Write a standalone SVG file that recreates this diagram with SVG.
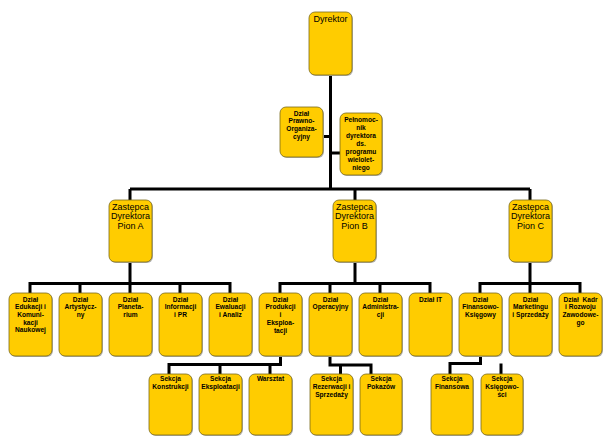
<svg xmlns="http://www.w3.org/2000/svg" width="612" height="445" viewBox="0 0 612 445">
<style>
.b{fill:#FFCC00;stroke:#7a6a1a;stroke-width:0.8}
.sh{fill:#b5b5b5}
.s{font-family:"Liberation Sans",Arial,sans-serif;font-size:6.6px;font-weight:bold;fill:#000;text-anchor:middle}
.l{font-family:"Liberation Sans",Arial,sans-serif;font-size:9px;fill:#000;text-anchor:middle}
.c{fill:none;stroke:#000;stroke-width:3}
</style>
<rect width="612" height="445" fill="#fff"/>
<g id="connectors">
<path class="c" d="M330.5 75V189M130 189H530M130 189V200M355 189V200M530 189V200"/>
<path class="c" d="M323 136.5H330.5M330.5 153H340"/>
<path class="c" d="M130 262V283.5M30 293V283.5H230V293M80 283.5V293M130 283.5V293M180 283.5V293"/>
<path class="c" d="M355 262V283.5M280 293V283.5H430V293M330 283.5V293M380 283.5V293"/>
<path class="c" d="M530 262V283.5M480 293V283.5H580V293M530 283.5V293"/>
<path class="c" d="M280.5 356V364.5H169V374M220 364.5V374M270 364.5V374"/>
<path class="c" d="M330 356V365H371V374M340.5 365V374"/>
<path class="c" d="M480.5 356V363.5H450V374M501 363.5V374"/>
</g>
<g id="dyrektor"><rect class="sh" x="310" y="13" width="43" height="63" rx="6"/><rect class="b" x="309" y="12" width="43" height="63" rx="6"/><text class="l" x="330.5" y="22">Dyrektor</text></g>
<g id="prawno"><rect class="sh" x="281" y="108" width="43" height="50" rx="6"/><rect class="b" x="280" y="107" width="43" height="50" rx="6"/><text class="s" x="301.5" y="115.5"><tspan x="301.5">Dział</tspan><tspan x="301.5" dy="7.8">Prawno-</tspan><tspan x="301.5" dy="7.8">Organiza-</tspan><tspan x="301.5" dy="7.8">cyjny</tspan></text></g>
<g id="pelnomocnik"><rect class="sh" x="341" y="114" width="42" height="62" rx="6"/><rect class="b" x="340" y="113" width="42" height="62" rx="6"/><text class="s" x="361" y="122.3"><tspan x="361">Pełnomoc-</tspan><tspan x="361" dy="8">nik</tspan><tspan x="361" dy="8">dyrektora</tspan><tspan x="361" dy="8">ds.</tspan><tspan x="361" dy="8">programu</tspan><tspan x="361" dy="8">wielolet-</tspan><tspan x="361" dy="8">niego</tspan></text></g>
<g id="pionA"><rect class="sh" x="110" y="201" width="43" height="62" rx="6"/><rect class="b" x="109" y="200" width="43" height="62" rx="6"/><text class="l" x="130.5" y="210"><tspan x="130.5">Zastępca</tspan><tspan x="130.5" dy="9.3">Dyrektora</tspan><tspan x="130.5" dy="9.3">Pion A</tspan></text></g>
<g id="pionB"><rect class="sh" x="334" y="201" width="43" height="62" rx="6"/><rect class="b" x="333" y="200" width="43" height="62" rx="6"/><text class="l" x="354.5" y="210"><tspan x="354.5">Zastępca</tspan><tspan x="354.5" dy="9.3">Dyrektora</tspan><tspan x="354.5" dy="9.3">Pion B</tspan></text></g>
<g id="pionC"><rect class="sh" x="510" y="201" width="43" height="62" rx="6"/><rect class="b" x="509" y="200" width="43" height="62" rx="6"/><text class="l" x="530.5" y="210"><tspan x="530.5">Zastępca</tspan><tspan x="530.5" dy="9.3">Dyrektora</tspan><tspan x="530.5" dy="9.3">Pion C</tspan></text></g>
<g id="edukacji"><rect class="sh" x="10" y="294" width="43" height="63" rx="6"/><rect class="b" x="9" y="293" width="43" height="63" rx="6"/><text class="s" x="30.5" y="301.5"><tspan x="30.5">Dział</tspan><tspan x="30.5" dy="7.7">Edukacji i</tspan><tspan x="30.5" dy="7.7">Komuni-</tspan><tspan x="30.5" dy="7.7">kacji</tspan><tspan x="30.5" dy="7.7">Naukowej</tspan></text></g>
<g id="artystyczny"><rect class="sh" x="60" y="294" width="43" height="63" rx="6"/><rect class="b" x="59" y="293" width="43" height="63" rx="6"/><text class="s" x="80.5" y="301.5"><tspan x="80.5">Dział</tspan><tspan x="80.5" dy="7.7">Artystycz-</tspan><tspan x="80.5" dy="7.7">ny</tspan></text></g>
<g id="planetarium"><rect class="sh" x="110" y="294" width="43" height="63" rx="6"/><rect class="b" x="109" y="293" width="43" height="63" rx="6"/><text class="s" x="130.5" y="301.5"><tspan x="130.5">Dział</tspan><tspan x="130.5" dy="7.7">Planeta-</tspan><tspan x="130.5" dy="7.7">rium</tspan></text></g>
<g id="informacji"><rect class="sh" x="160" y="294" width="43" height="63" rx="6"/><rect class="b" x="159" y="293" width="43" height="63" rx="6"/><text class="s" x="180.5" y="301.5"><tspan x="180.5">Dział</tspan><tspan x="180.5" dy="7.7">Informacji</tspan><tspan x="180.5" dy="7.7">i PR</tspan></text></g>
<g id="ewaluacji"><rect class="sh" x="210" y="294" width="43" height="63" rx="6"/><rect class="b" x="209" y="293" width="43" height="63" rx="6"/><text class="s" x="230.5" y="301.5"><tspan x="230.5">Dział</tspan><tspan x="230.5" dy="7.7">Ewaluacji</tspan><tspan x="230.5" dy="7.7">i Analiz</tspan></text></g>
<g id="produkcji"><rect class="sh" x="260" y="294" width="43" height="63" rx="6"/><rect class="b" x="259" y="293" width="43" height="63" rx="6"/><text class="s" x="280.5" y="301.5"><tspan x="280.5">Dział</tspan><tspan x="280.5" dy="7.8">Produkcji</tspan><tspan x="280.5" dy="7.8">i</tspan><tspan x="280.5" dy="7.8">Eksploa-</tspan><tspan x="280.5" dy="7.8">tacji</tspan></text></g>
<g id="operacyjny"><rect class="sh" x="310" y="294" width="43" height="63" rx="6"/><rect class="b" x="309" y="293" width="43" height="63" rx="6"/><text class="s" x="330.5" y="301.5"><tspan x="330.5">Dział</tspan><tspan x="330.5" dy="7.7">Operacyjny</tspan></text></g>
<g id="administracji"><rect class="sh" x="360" y="294" width="43" height="63" rx="6"/><rect class="b" x="359" y="293" width="43" height="63" rx="6"/><text class="s" x="380.5" y="301.5"><tspan x="380.5">Dział</tspan><tspan x="380.5" dy="7.7">Administra-</tspan><tspan x="380.5" dy="7.7">cji</tspan></text></g>
<g id="it"><rect class="sh" x="410" y="294" width="43" height="63" rx="6"/><rect class="b" x="409" y="293" width="43" height="63" rx="6"/><text class="s" x="430.5" y="301.5">Dział IT</text></g>
<g id="finansowo"><rect class="sh" x="460" y="294" width="43" height="63" rx="6"/><rect class="b" x="459" y="293" width="43" height="63" rx="6"/><text class="s" x="480.5" y="301.5"><tspan x="480.5">Dział</tspan><tspan x="480.5" dy="7.7">Finansowo-</tspan><tspan x="480.5" dy="7.7">Księgowy</tspan></text></g>
<g id="marketingu"><rect class="sh" x="510" y="294" width="43" height="63" rx="6"/><rect class="b" x="509" y="293" width="43" height="63" rx="6"/><text class="s" x="530.5" y="301.5"><tspan x="530.5">Dział</tspan><tspan x="530.5" dy="7.7">Marketingu</tspan><tspan x="530.5" dy="7.7">i Sprzedaży</tspan></text></g>
<g id="kadr"><rect class="sh" x="560" y="294" width="43" height="63" rx="6"/><rect class="b" x="559" y="293" width="43" height="63" rx="6"/><text class="s" x="580.5" y="301.5"><tspan x="580.5" xml:space="preserve">Dział  Kadr</tspan><tspan x="580.5" dy="7.7">i Rozwoju</tspan><tspan x="580.5" dy="7.7">Zawodowe-</tspan><tspan x="580.5" dy="7.7">go</tspan></text></g>
<g id="konstrukcji"><rect class="sh" x="150" y="375" width="43" height="61" rx="6"/><rect class="b" x="149" y="374" width="43" height="61" rx="6"/><text class="s" x="170.5" y="381.3"><tspan x="170.5">Sekcja</tspan><tspan x="170.5" dy="8">Konstrukcji</tspan></text></g>
<g id="eksploatacji"><rect class="sh" x="200" y="375" width="43" height="61" rx="6"/><rect class="b" x="199" y="374" width="43" height="61" rx="6"/><text class="s" x="220.5" y="381.3"><tspan x="220.5">Sekcja</tspan><tspan x="220.5" dy="8">Eksploatacji</tspan></text></g>
<g id="warsztat"><rect class="sh" x="250" y="375" width="43" height="61" rx="6"/><rect class="b" x="249" y="374" width="43" height="61" rx="6"/><text class="s" x="270.5" y="381.3">Warsztat</text></g>
<g id="rezerwacji"><rect class="sh" x="311" y="375" width="43" height="61" rx="6"/><rect class="b" x="310" y="374" width="43" height="61" rx="6"/><text class="s" x="331.5" y="381.3"><tspan x="331.5">Sekcja</tspan><tspan x="331.5" dy="8">Rezerwacji i</tspan><tspan x="331.5" dy="8">Sprzedaży</tspan></text></g>
<g id="pokazow"><rect class="sh" x="361" y="375" width="42" height="61" rx="6"/><rect class="b" x="360" y="374" width="42" height="61" rx="6"/><text class="s" x="381" y="381.3"><tspan x="381">Sekcja</tspan><tspan x="381" dy="8">Pokazów</tspan></text></g>
<g id="finansowa"><rect class="sh" x="432" y="375" width="42" height="61" rx="6"/><rect class="b" x="431" y="374" width="42" height="61" rx="6"/><text class="s" x="452" y="381.3"><tspan x="452">Sekcja</tspan><tspan x="452" dy="8">Finansowa</tspan></text></g>
<g id="ksiegowosci"><rect class="sh" x="482" y="375" width="42" height="61" rx="6"/><rect class="b" x="481" y="374" width="42" height="61" rx="6"/><text class="s" x="502" y="381.3"><tspan x="502">Sekcja</tspan><tspan x="502" dy="8">Księgowo-</tspan><tspan x="502" dy="8">ści</tspan></text></g>
</svg>
